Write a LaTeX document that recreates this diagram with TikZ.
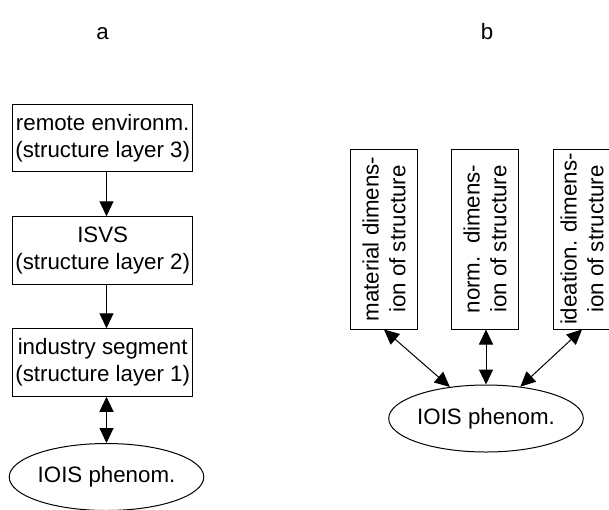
\documentclass[tikz,border=0pt]{standalone}
\usepackage{fontspec}
\setmainfont{Liberation Sans}
\usetikzlibrary{arrows.meta,shapes.geometric}
\begin{document}
\begin{tikzpicture}[x=1pt,y=-1pt,
  txt/.style={font=\fontsize{22.3pt}{26.8pt}\selectfont},
  hbox/.style={txt,draw,line width=1pt,minimum width=180pt,minimum height=67.5pt,inner sep=0pt,align=center},
  vbox/.style={txt,draw,line width=1pt,rotate=90,minimum width=180pt,minimum height=67pt,inner sep=0pt,align=center},
  oval/.style={txt,draw,line width=1pt,ellipse,minimum width=181pt,minimum height=67pt,inner sep=0pt},
  arr/.style={line width=1pt,-{Triangle[length=15pt,width=14pt]}},
  darr/.style={line width=1pt,{Triangle[length=15pt,width=14pt]}-{Triangle[length=15pt,width=14pt]}}]
\useasboundingbox (0,0) rectangle (609,509);
\fill[white] (0,0) rectangle (609,509);
% labels
\node[txt,anchor=base,inner sep=0pt] (la) at (102.5,39) {a};
\node[txt,anchor=base,inner sep=0pt] (lb) at (487,39) {b};
% panel a
\node[hbox] (b1) at (102.7,138) {remote environm.\\(structure layer 3)};
\node[hbox] (b2) at (102.7,250.5) {ISVS\\(structure layer 2)};
\node[hbox] (b3) at (102.7,362.5) {industry segment\\(structure layer 1)};
\node[oval] (e1) at (106.5,477) {IOIS phenom.};
\draw[arr] (b1.south -| e1.north) -- (b2.north -| e1.north);
\draw[arr] (b2.south -| e1.north) -- (b3.north -| e1.north);
\draw[darr] (b3.south -| e1.north) -- (e1.north);
% panel b
\node[vbox] (ma) at (384,239) {material dimens-\\ion of structure};
\node[vbox] (no) at (485,239) {norm.\ \ dimens-\\ion of structure};
\node[vbox,minimum height=58pt] (id) at (582,239) {ideation. dimens-\\ion of structure};
\node[oval] (e2) at (486,418.5) {IOIS phenom.};
\draw[darr] (ma.west) -- (e2);
\draw[darr] (no.west -| e2.north) -- (e2.north);
\draw[darr] (id.west) -- (e2);
\end{tikzpicture}
\end{document}
